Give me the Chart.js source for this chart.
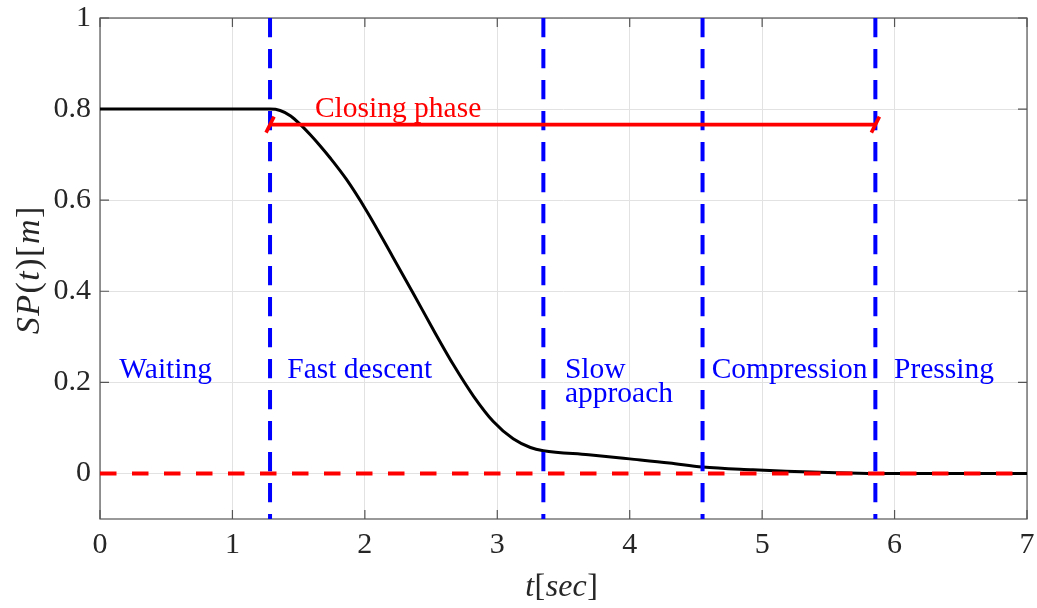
<!DOCTYPE html>
<html>
<head>
<meta charset="utf-8">
<script src="https://cdn.jsdelivr.net/npm/chart.js@4.4.1/dist/chart.umd.min.js"></script>
<style>
  html, body { margin: 0; padding: 0; background: #ffffff; }
  #wrap { width: 1037px; height: 608px; }
</style>
</head>
<body>
<div id="wrap"><canvas id="c"></canvas></div>
<script>
// Press ram position over one pressing cycle
const timeSec = [0, 1.284, 1.36, 1.44, 1.51, 1.59, 1.66, 1.74, 1.86, 2.01, 2.21, 2.37,
                 2.52, 2.67, 2.82, 2.97, 3.12, 3.25, 3.348, 3.69, 4.0, 4.30, 4.55, 4.93,
                 5.18, 5.5, 5.855, 7];
const ramPos = [0.8, 0.8, 0.797, 0.785, 0.767, 0.743, 0.720, 0.692, 0.646, 0.578, 0.476, 0.393,
                0.314, 0.238, 0.170, 0.114, 0.076, 0.057, 0.050, 0.041, 0.032, 0.023, 0.014, 0.008,
                0.005, 0.002, 0, 0];

// Phase switching instants (s) and the phase names between them
const phaseBounds = [1.284, 3.348, 4.55, 5.855];
const phaseNames = ['Waiting', 'Fast descent', 'Slow\napproach', 'Compression', 'Pressing'];
const phaseLabelT = [0.146, 1.414, 3.511, 4.619, 5.996];
const phaseLabelV = 0.21;

// Closing phase span (first to last switching instant) and its level
const closingLabel = 'Closing phase';
const closingLevel = 0.766;
const closingLabelT = 1.623;
const closingLabelV = 0.782;

// Reference (target) position
const targetPos = 0;

const xTicks = [0, 1, 2, 3, 4, 5, 6, 7];
const yTicks = [0, 0.2, 0.4, 0.6, 0.8, 1];

// Axis captions as math: [text, italic]
const xCaption = [['t', true], ['[', false], ['sec', true], [']', false]];
const yCaption = [['S', true], ['P', true], ['(', false], ['t', true], [')', false], ['[', false], ['m', true], [']', false]];

const SERIF = '"Liberation Serif", "Times New Roman", serif';

function drawMath(ctx, parts, size, gap) {
  const fonts = parts.map(([, it]) => (it ? 'italic ' : '') + size + 'px ' + SERIF);
  const widths = parts.map(([s], i) => { ctx.font = fonts[i]; return ctx.measureText(s).width; });
  const total = widths.reduce((a, b) => a + b, 0) + gap * (parts.length - 1);
  let x = -total / 2;
  parts.forEach(([s], i) => { ctx.font = fonts[i]; ctx.fillText(s, x, 0); x += widths[i] + gap; });
}

const frame = {
  id: 'frame',
  beforeDatasetsDraw(chart) {
    const { ctx, chartArea: { left, right, top, bottom }, scales: { x, y } } = chart;
    ctx.save();
    ctx.strokeStyle = '#555555';
    ctx.lineWidth = 1.2;
    ctx.strokeRect(left, top, right - left, bottom - top);
    ctx.beginPath();
    xTicks.forEach(v => {
      const px = x.getPixelForValue(v);
      ctx.moveTo(px, bottom); ctx.lineTo(px, bottom - 9);
      ctx.moveTo(px, top); ctx.lineTo(px, top + 9);
    });
    yTicks.forEach(v => {
      const py = y.getPixelForValue(v);
      ctx.moveTo(left, py); ctx.lineTo(left + 9, py);
      ctx.moveTo(right, py); ctx.lineTo(right - 9, py);
    });
    ctx.stroke();
    ctx.restore();
  }
};

const notes = {
  id: 'notes',
  afterDatasetsDraw(chart) {
    const { ctx, scales: { x, y } } = chart;
    ctx.save();
    // slanted end caps of the closing-phase bar
    ctx.strokeStyle = '#ff0000';
    ctx.lineWidth = 3.6;
    ctx.lineCap = 'butt';
    [phaseBounds[0], phaseBounds[phaseBounds.length - 1]].forEach(t => {
      const px = x.getPixelForValue(t);
      const py = y.getPixelForValue(closingLevel);
      ctx.beginPath();
      ctx.moveTo(px - 4, py + 8);
      ctx.lineTo(px + 4, py - 8);
      ctx.stroke();
    });
    // closing-phase caption
    ctx.font = '29.5px ' + SERIF;
    ctx.textBaseline = 'alphabetic';
    ctx.textAlign = 'left';
    ctx.fillStyle = '#ff0000';
    ctx.fillText(closingLabel, x.getPixelForValue(closingLabelT), y.getPixelForValue(closingLabelV));
    // phase names
    ctx.fillStyle = '#0000ff';
    phaseNames.forEach((name, i) => {
      const px = x.getPixelForValue(phaseLabelT[i]);
      const py = y.getPixelForValue(phaseLabelV);
      name.split('\n').forEach((line, k) => ctx.fillText(line, px, py + k * 24.5));
    });
    ctx.restore();
  },
  afterDraw(chart) {
    const { ctx, chartArea: { left, right, top, bottom } } = chart;
    ctx.save();
    ctx.fillStyle = '#262626';
    ctx.textBaseline = 'alphabetic';
    ctx.textAlign = 'left';
    ctx.translate((left + right) / 2 - 2, 595.5);
    drawMath(ctx, xCaption, 32, 0.5);
    ctx.restore();
    ctx.save();
    ctx.fillStyle = '#262626';
    ctx.textBaseline = 'alphabetic';
    ctx.textAlign = 'left';
    ctx.translate(38.5, (top + bottom) / 2 + 2);
    ctx.rotate(-Math.PI / 2);
    drawMath(ctx, yCaption, 34, 1.5);
    ctx.restore();
  }
};

const pts = (xs, ys) => xs.map((t, i) => ({ x: t, y: ys[i] }));

const datasets = [
  {
    data: [{ x: phaseBounds[0], y: closingLevel }, { x: phaseBounds[phaseBounds.length - 1], y: closingLevel }],
    borderColor: '#ff0000', borderWidth: 3.6
  },
  ...phaseBounds.map(t => ({
    data: [{ x: t, y: 1 }, { x: t, y: -0.1 }],
    borderColor: '#0000ff', borderWidth: 4, borderDash: [19.3, 11.7]
  })),
  {
    data: [{ x: 0, y: targetPos }, { x: 7, y: targetPos }],
    borderColor: '#ff0000', borderWidth: 4, borderDash: [16.5, 15.5]
  },
  {
    data: pts(timeSec, ramPos),
    borderColor: '#000000', borderWidth: 3, cubicInterpolationMode: 'monotone'
  }
].map(d => Object.assign({ showLine: true, pointRadius: 0, fill: false, borderCapStyle: 'butt' }, d));

const noEdgePadding = s => { s.paddingTop = 0; s.paddingBottom = 0; s.paddingLeft = 0; s.paddingRight = 0; };

new Chart(document.getElementById('c'), {
  type: 'scatter',
  data: { datasets },
  options: {
    responsive: true,
    maintainAspectRatio: false,
    animation: false,
    layout: { padding: { top: 18, right: 10, left: 0, bottom: 0 } },
    plugins: { legend: { display: false }, tooltip: { enabled: false } },
    scales: {
      x: {
        type: 'linear', min: 0, max: 7,
        afterFit: s => { s.height = 89; noEdgePadding(s); },
        afterBuildTicks: s => { s.ticks = xTicks.map(v => ({ value: v })); },
        grid: { color: '#e2e2e2', lineWidth: 1, drawTicks: false },
        border: { display: false },
        ticks: { padding: 8, color: '#262626', font: { family: SERIF, size: 30 }, maxRotation: 0,
                 callback: v => String(v) }
      },
      y: {
        type: 'linear', min: -0.1, max: 1,
        afterFit: s => { s.width = 100; noEdgePadding(s); },
        afterBuildTicks: s => { s.ticks = yTicks.map(v => ({ value: v })); },
        grid: { color: '#e2e2e2', lineWidth: 1, drawTicks: false },
        border: { display: false },
        ticks: { padding: 9, color: '#262626', font: { family: SERIF, size: 30 },
                 callback: v => String(+v.toFixed(1)) }
      }
    }
  },
  plugins: [frame, notes]
});
</script>
</body>
</html>
